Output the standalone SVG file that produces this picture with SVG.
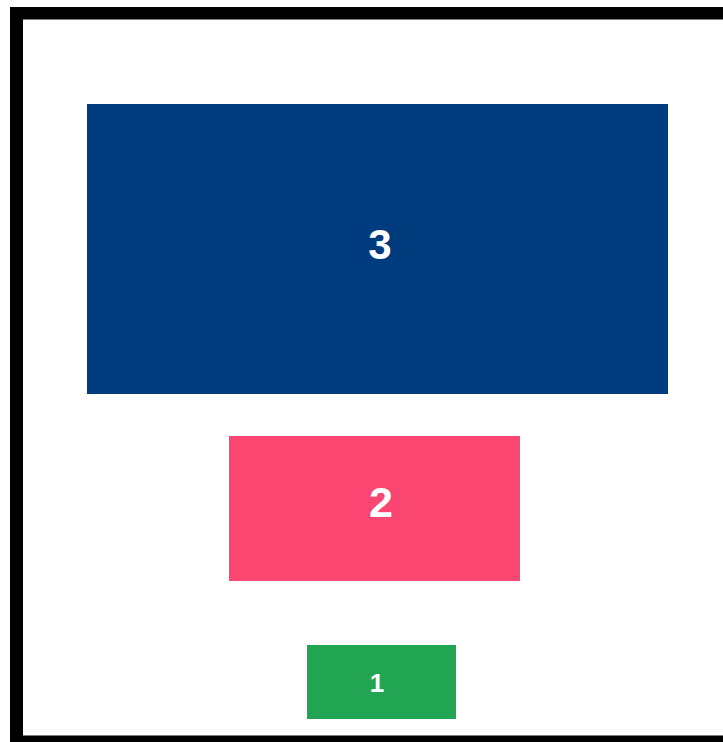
<svg xmlns="http://www.w3.org/2000/svg" width="723" height="742" viewBox="0 0 723 742">
<style>
.lbl{font-family:"Liberation Sans",Arial,sans-serif;font-weight:bold;fill:#ffffff;text-anchor:middle}
</style>
<rect x="0" y="0" width="723" height="742" fill="#ffffff"/>
<path d="M10 7 H723 V19.5 H23 V735.5 H723 V742 H10 Z" fill="#000000"/>
<g id="node3">
<rect x="87" y="104" width="581" height="290" fill="#003b7e"/>
<text class="lbl" x="380" y="259" font-size="42">3</text>
</g>
<g id="node2">
<rect x="229" y="436" width="291" height="145" fill="#fb4671"/>
<text class="lbl" x="381" y="517" font-size="43">2</text>
</g>
<g id="node1">
<rect x="307" y="645" width="149" height="74" fill="#22a553"/>
<text class="lbl" x="377" y="692" font-size="26">1</text>
</g>
<g id="connectors"/>
</svg>
